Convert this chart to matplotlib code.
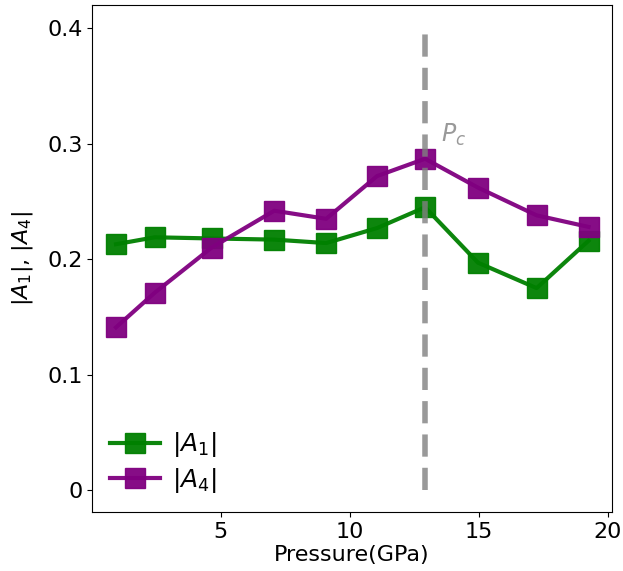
import matplotlib.pyplot as plt

# ---- data ----
pressure = [0.95, 2.45, 4.65, 7.08, 9.09, 11.06, 12.92, 14.97, 17.24, 19.25]
a1 = [0.213, 0.219, 0.218, 0.217, 0.214, 0.227, 0.245, 0.197, 0.175, 0.216]
a4 = [0.141, 0.171, 0.210, 0.242, 0.235, 0.272, 0.287, 0.262, 0.238, 0.228]
pc = 12.92
yticks = [0, 0.1, 0.2, 0.3, 0.4]
ytick_labels = ['0', '0.1', '0.2', '0.3', '0.4']

plt.rcParams['font.size'] = 16

fig, ax = plt.subplots(figsize=(6.23, 5.71), dpi=100)
ax.plot(pressure, a1, 's-', color='green', lw=3, ms=15, alpha=0.95, label=r'$|A_1|$')
ax.plot(pressure, a4, 's-', color='purple', lw=3, ms=15, alpha=0.95, label=r'$|A_4|$')
ax.plot([pc, pc], [0, 0.4], '--', color='grey', lw=4, alpha=0.8, dashes=(4, 2))
ax.text(pc + 0.6, 0.302, r'$P_c$', color='grey', alpha=0.8, fontsize=17)

ax.set_xlim(0.03, 20.15)
ax.set_ylim(-0.019, 0.42)
ax.set_xticks([5, 10, 15, 20])
ax.set_yticks(yticks)
ax.set_yticklabels(ytick_labels)
ax.set_xlabel('Pressure(GPa)', labelpad=2)
ax.set_ylabel(r'$|A_1|$, $|A_4|$', labelpad=9)
ax.legend(loc='lower left', frameon=False, fontsize=18, handlelength=2.0,
          handletextpad=0.5, labelspacing=0.25, borderaxespad=0.3)

plt.subplots_adjust(left=0.148, right=0.982, top=0.991, bottom=0.103)
plt.savefig('out.png', dpi=100)
